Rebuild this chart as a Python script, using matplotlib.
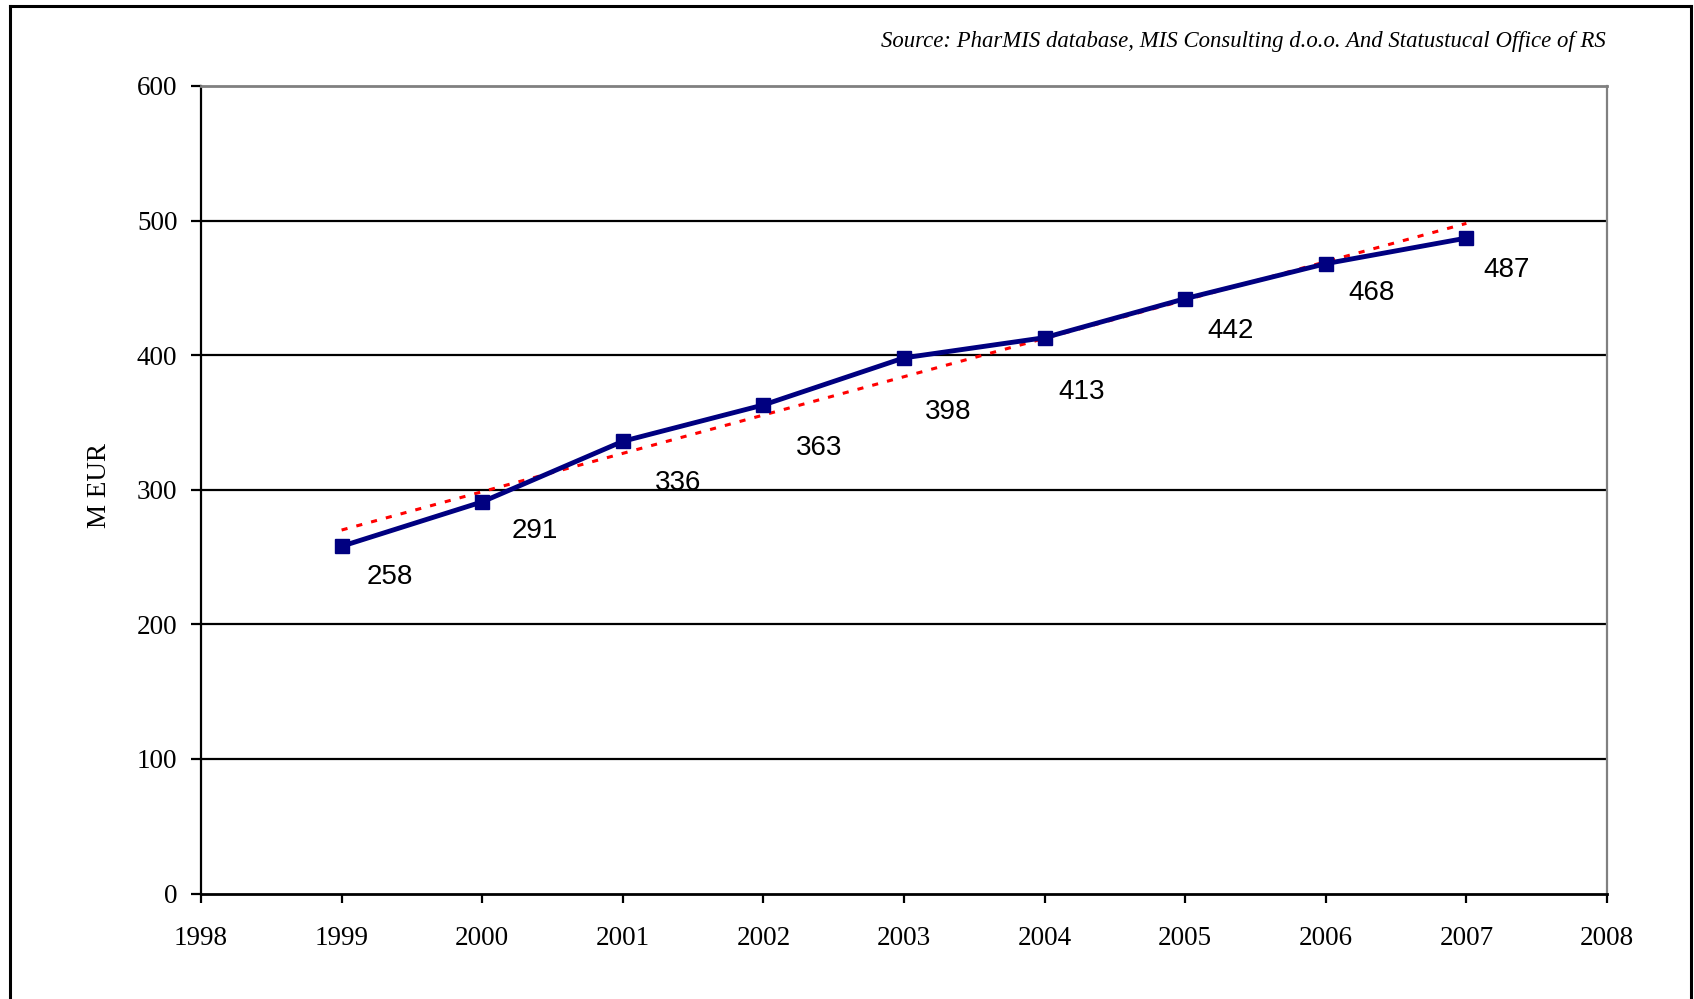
import numpy as np
import matplotlib
matplotlib.use("Agg")
import matplotlib.pyplot as plt
from matplotlib.lines import Line2D

years = [1999, 2000, 2001, 2002, 2003, 2004, 2005, 2006, 2007]
values = [258, 291, 336, 363, 398, 413, 442, 468, 487]
y_ticks = [0, 100, 200, 300, 400, 500, 600]
x_ticks = [1998, 1999, 2000, 2001, 2002, 2003, 2004, 2005, 2006, 2007, 2008]
source_text = "Source: PharMIS database, MIS Consulting d.o.o. And Statustucal Office of RS"
y_label = "M EUR"

# label offsets in points (layout only)
label_offsets = [(35, -22), (38, -21), (40, -30), (40, -31), (32, -39),
                 (27, -39), (33, -23), (33, -21), (29, -23)]

fig = plt.figure(figsize=(16.94, 9.99), dpi=100)
ax = fig.add_axes([201/1694, 1 - 893.5/999, (1607-201)/1694, (893.5-86)/999])

serif = "Liberation Serif"

ax.set_xlim(1998, 2008)
ax.set_ylim(0, 600)
ax.set_yticks(y_ticks)
ax.set_xticks(x_ticks)
ax.set_yticklabels([str(v) for v in y_ticks], fontfamily=serif, fontsize=19.5)
ax.set_xticklabels([str(v) for v in x_ticks], fontfamily=serif, fontsize=19.5)
ax.tick_params(axis='y', direction='out', length=7, width=1.6, pad=10, color='black')
ax.tick_params(axis='x', direction='out', length=6.5, width=1.6, pad=17, color='black')

for yv in y_ticks[1:-1]:
    ax.axhline(yv, color='black', lw=1.6, zorder=1)

ax.spines['left'].set_color('black')
ax.spines['left'].set_linewidth(1.6)
ax.spines['bottom'].set_color('black')
ax.spines['bottom'].set_linewidth(2.0)
ax.spines['top'].set_color('#808080')
ax.spines['top'].set_linewidth(2.0)
ax.spines['right'].set_color('#808080')
ax.spines['right'].set_linewidth(1.6)

# trend line (linear fit)
coef = np.polyfit(years, values, 1)
trend = np.polyval(coef, years)
ax.plot([years[0], years[-1]], [trend[0], trend[-1]], color='#ff0000', lw=2.2,
        linestyle=(0, (2, 3)), zorder=3)

ax.plot(years, values, color='#000080', lw=3.5, marker='s', markersize=9.5,
        markerfacecolor='#000080', markeredgecolor='#000080', zorder=4)

for x, v, off in zip(years, values, label_offsets):
    ax.annotate(str(v), (x, v), xytext=off, textcoords='offset points',
                ha='center', va='center', fontsize=20, fontfamily='Liberation Sans',
                color='black', zorder=5)

ax.set_ylabel(y_label, fontfamily=serif, fontsize=19.5)
ax.yaxis.set_label_coords((112 - 201) / (1607 - 201), (893.5 - 486) / (893.5 - 86))

fig.text(1606/1694, 1 - 42/999, source_text, ha='right', va='center',
         fontfamily=serif, fontstyle='italic', fontsize=16.4)

# outer frame
fig.add_artist(Line2D([10/1694, 10/1694], [0, 1 - 6/999], color='black', lw=2.2,
                      transform=fig.transFigure))
fig.add_artist(Line2D([10/1694, 1691/1694], [1 - 6/999, 1 - 6/999], color='black', lw=2.2,
                      transform=fig.transFigure))
fig.add_artist(Line2D([1691/1694, 1691/1694], [0, 1 - 6/999], color='black', lw=2.2,
                      transform=fig.transFigure))

fig.savefig("out.png", dpi=100)
